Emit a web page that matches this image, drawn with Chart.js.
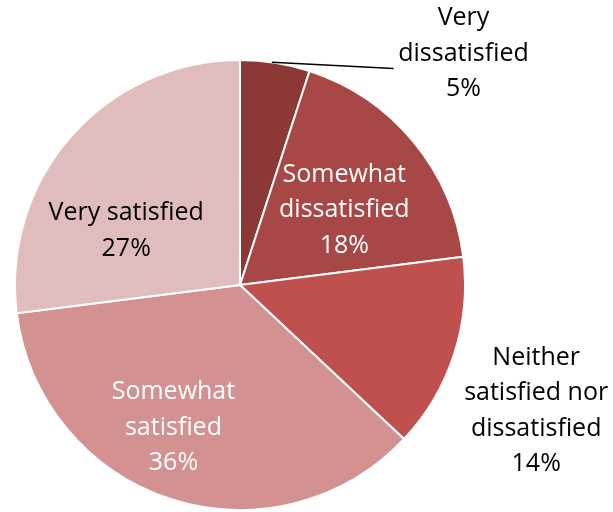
<!DOCTYPE html>
<html>
<head>
<meta charset="utf-8">
<script src="https://cdn.jsdelivr.net/npm/chart.js@4/dist/chart.umd.min.js"></script>
<style>
  html, body { margin: 0; padding: 0; background: #fff; }
  #wrap { width: 613px; height: 512px; }
</style>
</head>
<body>
<div id="wrap"><canvas id="myChart"></canvas></div>
<script>
let categories = ["Very dissatisfied", "Somewhat dissatisfied", "Neither satisfied nor dissatisfied", "Somewhat satisfied", "Very satisfied"];
let shares = [5, 18, 14, 36, 27];
let labelLines = [
  ["Very", "dissatisfied"],
  ["Somewhat", "dissatisfied"],
  ["Neither", "satisfied nor", "dissatisfied"],
  ["Somewhat", "satisfied"],
  ["Very satisfied"]
];
let colors = ["#8c3837", "#a84846", "#c0504d", "#d39291", "#e0bcbc"];

// where each label sits: distance in radii from centre, angle nudge in degrees, text colour
const placement = [
  { r: 1.43, turn: 35, color: "#000", leader: true },
  { r: 0.57, turn: 4, color: "#fff" },
  { r: 1.43, turn: 5, color: "#000" },
  { r: 0.70, turn: 7, color: "#fff" },
  { r: 0.56, turn: -16, color: "#000" }
];

const pieLabels = {
  id: "pieLabels",
  afterDatasetsDraw(chart) {
    const ctx = chart.ctx;
    const arcs = chart.getDatasetMeta(0).data;
    const lineH = 35.5;
    ctx.save();
    ctx.font = "25px 'Open Sans'";
    ctx.textAlign = "center";
    ctx.textBaseline = "middle";
    arcs.forEach((arc, i) => {
      const p = placement[i];
      const mid = (arc.startAngle + arc.endAngle) / 2 + p.turn * Math.PI / 180;
      const cx = arc.x + Math.cos(mid) * arc.outerRadius * p.r;
      const cy = arc.y + Math.sin(mid) * arc.outerRadius * p.r;
      const lines = labelLines[i].concat([shares[i] + "%"]);
      const top = cy - (lines.length - 1) * lineH / 2;
      if (p.leader) {
        const a = (arc.startAngle + arc.endAngle) / 2 - 0.015;
        ctx.beginPath();
        ctx.strokeStyle = "#000";
        ctx.lineWidth = 1.5;
        ctx.moveTo(arc.x + Math.cos(a) * arc.outerRadius, arc.y + Math.sin(a) * arc.outerRadius);
        ctx.lineTo(cx - 70, cy + 15);
        ctx.stroke();
      }
      ctx.fillStyle = p.color;
      lines.forEach((t, k) => ctx.fillText(t, cx, top + k * lineH));
    });
    ctx.restore();
  }
};

new Chart("myChart", {
  type: "pie",
  data: {
    labels: categories,
    datasets: [{
      data: shares,
      backgroundColor: colors,
      borderColor: "#fff",
      borderWidth: 2
    }]
  },
  options: {
    responsive: true,
    maintainAspectRatio: false,
    animation: false,
    layout: { padding: { left: 14, right: 147, top: 59, bottom: 1 } },
    plugins: {
      legend: { display: false },
      tooltip: { enabled: false }
    }
  },
  plugins: [pieLabels]
});
</script>
</body>
</html>
